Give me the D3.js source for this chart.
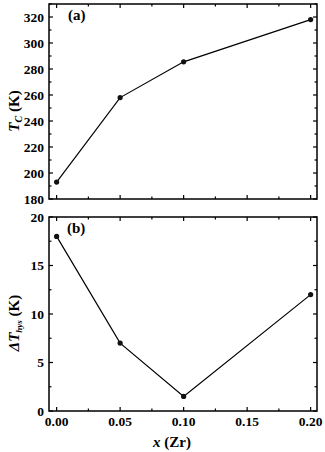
<!DOCTYPE html>
<html>
<head>
	<style>
		body { margin: 0; background: #fff; }
		.frame { fill: none; stroke: #000; stroke-width: 1.5; }
		.line { fill: none; stroke: #000; stroke-width: 1.2; }
	</style>
</head>
<body>
	<svg id="chart" width="325" height="452"></svg>
</body>
<script src="https://d3js.org/d3.v7.min.js"></script>
<script>
	// composition x (Zr)
	let xValues = [0, 0.05, 0.10, 0.20]
	// (a) Curie temperature
	let tcValues = [193, 258, 285.5, 318]
	// (b) thermal hysteresis
	let hysValues = [18, 7, 1.5, 12]

	let xTicks = [0, 0.05, 0.10, 0.15, 0.20]
	let tcTicks = [180, 200, 220, 240, 260, 280, 300, 320]
	let hysTicks = [0, 5, 10, 15, 20]

	let serif = "'Liberation Serif', 'Times New Roman', Times, serif"
	let svg = d3.select("#chart")
	let left = 49, right = 317

	let x = d3.scaleLinear().domain([-0.006, 0.205]).range([left, right])

	function label(sel) {
		return sel.style("font-family", serif).style("font-weight", "bold").attr("fill", "#000")
	}

	function panel(opts) {
		let y = d3.scaleLinear().domain(opts.yDomain).range([opts.bottom, opts.top])
		let g = svg.append("g")

		// major + minor ticks on all four sides, pointing in
		let xMinor = d3.range(0, 0.2001, 0.025)
		let yMinor = d3.range(opts.yDomain[0], opts.yDomain[1] + 0.001, opts.yMinorStep)
		let tickLen = 4, minorLen = 2.5

		xMinor.forEach(v => {
			let major = xTicks.some(t => Math.abs(t - v) < 1e-6)
			let len = major ? tickLen : minorLen
			g.append("line").attr("x1", x(v)).attr("x2", x(v))
				.attr("y1", opts.bottom).attr("y2", opts.bottom - len).attr("stroke", "#000").attr("stroke-width", 1.2)
			g.append("line").attr("x1", x(v)).attr("x2", x(v))
				.attr("y1", opts.top).attr("y2", opts.top + len).attr("stroke", "#000").attr("stroke-width", 1.2)
		})
		yMinor.forEach(v => {
			let major = opts.yTicks.includes(v)
			let len = major ? tickLen : minorLen
			g.append("line").attr("x1", left).attr("x2", left + len)
				.attr("y1", y(v)).attr("y2", y(v)).attr("stroke", "#000").attr("stroke-width", 1.2)
			g.append("line").attr("x1", right).attr("x2", right - len)
				.attr("y1", y(v)).attr("y2", y(v)).attr("stroke", "#000").attr("stroke-width", 1.2)
		})

		// tick labels
		label(g.selectAll(".ylab").data(opts.yTicks).enter().append("text"))
			.attr("x", left - 5).attr("y", d => y(d) + 4.5)
			.attr("text-anchor", "end").attr("font-size", 13.5)
			.text(d => d)
		if (opts.xLabels) {
			label(g.selectAll(".xlab").data(xTicks).enter().append("text"))
				.attr("x", d => x(d)).attr("y", opts.bottom + 15)
				.attr("text-anchor", "middle").attr("font-size", 13.5)
				.text(d => d3.format(".2f")(d))
		}

		g.append("rect").attr("class", "frame")
			.attr("x", left).attr("y", opts.top)
			.attr("width", right - left).attr("height", opts.bottom - opts.top)

		let line = d3.line().x(d => x(d[0])).y(d => y(d[1]))
		let pts = xValues.map((v, i) => [v, opts.values[i]])
		g.append("path").attr("class", "line").attr("d", line(pts))
		g.selectAll(".dot").data(pts).enter().append("circle")
			.attr("cx", d => x(d[0])).attr("cy", d => y(d[1])).attr("r", 2.6)
			.attr("fill", "#111")

		label(g.append("text")).attr("x", opts.tagX).attr("y", opts.top + 16)
			.attr("font-size", 15).text(opts.tag)
		return y
	}

	panel({ top: 4, bottom: 199, yDomain: [180, 330], yTicks: tcTicks, yMinorStep: 10,
		values: tcValues, xLabels: false, tag: "(a)", tagX: 68 })
	panel({ top: 217, bottom: 411, yDomain: [0, 20], yTicks: hysTicks, yMinorStep: 2.5,
		values: hysValues, xLabels: true, tag: "(b)", tagX: 67 })

	// axis titles
	let t1 = label(svg.append("text")).attr("font-size", 15).attr("text-anchor", "middle")
		.attr("transform", "translate(19,111) rotate(-90)")
	t1.append("tspan").style("font-style", "italic").text("T")
	t1.append("tspan").style("font-style", "italic").attr("font-size", 10).attr("dy", 3).text("C")
	t1.append("tspan").attr("dy", -3).text(" (K)")

	let t2 = label(svg.append("text")).attr("font-size", 15).attr("text-anchor", "middle")
		.attr("transform", "translate(19,323) rotate(-90)")
	t2.append("tspan").style("font-style", "italic").text("ΔT")
	t2.append("tspan").style("font-style", "italic").attr("font-size", 9).attr("dy", 3).text("hys")
	t2.append("tspan").attr("dy", -3).text(" (K)")

	let t3 = label(svg.append("text")).attr("font-size", 15).attr("text-anchor", "middle")
		.attr("x", 172).attr("y", 447)
	t3.append("tspan").style("font-style", "italic").text("x")
	t3.append("tspan").text(" (Zr)")
</script>
</html>
